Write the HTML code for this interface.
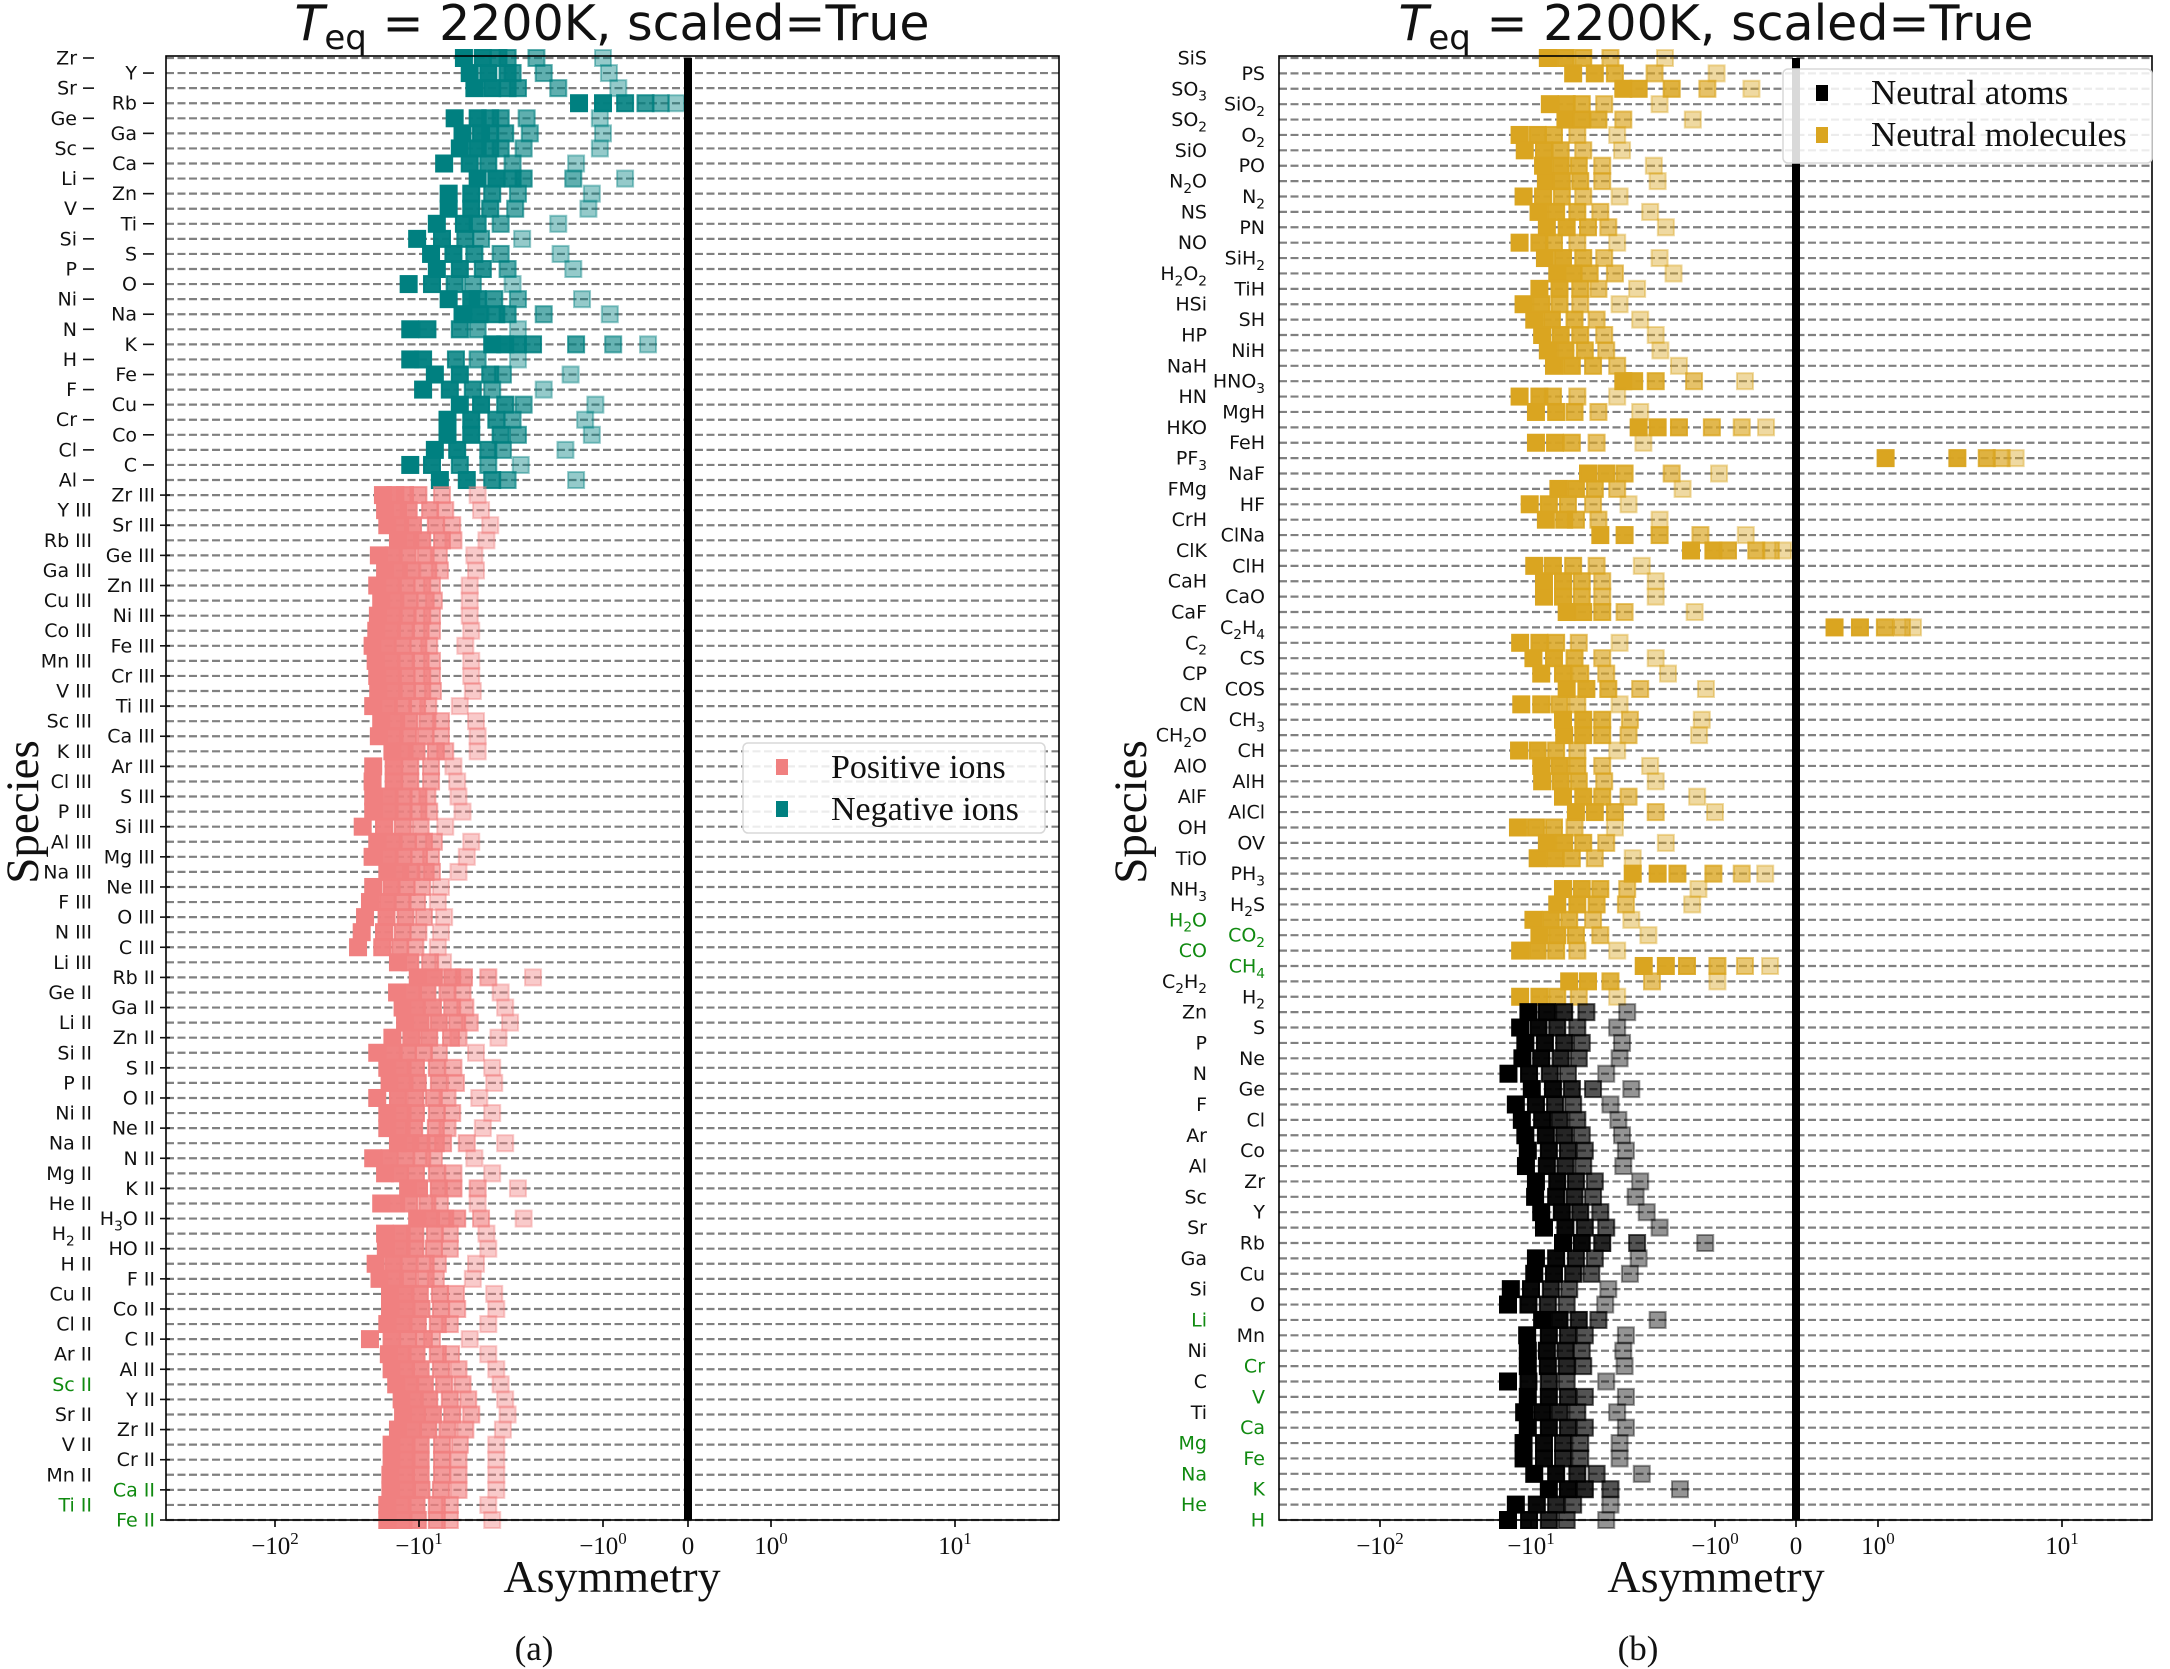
<!DOCTYPE html>
<html><head><meta charset="utf-8"><style>
html,body{margin:0;padding:0;background:#fff;}
svg{display:block;}
</style></head><body>
<svg id="fig" xmlns="http://www.w3.org/2000/svg" width="2170" height="1669" viewBox="0 0 2170 1669"></svg>
<script>
// ---------- DATA ----------
const negSpecies = ["Zr","Y","Sr","Rb","Ge","Ga","Sc","Ca","Li","Zn","V","Ti","Si","S","P","O","Ni","Na","N","K","H","Fe","F","Cu","Cr","Co","Cl","C","Al"];
const negValues = [
[-5.7,-4.5,-3.7,-3.3,-2.3,-1.0],[-5.3,-4.2,-3.3,-3.1,-2.1,-0.93],[-5.0,-4.0,-3.3,-2.9,-1.75,-0.82],
[-1.35,-1.0,-0.74,-0.5,-0.32,-0.14],[-6.4,-4.8,-4.1,-3.6,-2.6,-1.04],[-5.8,-4.6,-4.1,-3.4,-2.5,-1.0],
[-6.0,-4.8,-4.1,-3.6,-2.7,-1.04],[-7.3,-5.3,-4.2,-3.1,-1.4],[-4.8,-3.8,-3.1,-2.7,-1.45,-0.74],
[-6.9,-5.2,-4.0,-2.9,-1.15],[-6.9,-5.2,-4.1,-3.0,-1.2],[-8.0,-5.7,-4.8,-3.6,-1.75],
[-10.3,-7.5,-5.6,-4.6,-2.75],[-8.6,-6.5,-5.0,-3.6,-1.7],[-8.0,-6.0,-4.5,-3.3,-1.45],
[-11.8,-8.5,-6.4,-5.1,-3.1],[-6.9,-5.2,-4.8,-3.9,-2.9,-1.3],[-5.8,-4.7,-3.8,-3.3,-2.1,-0.92],
[-11.5,-9,-6.0,-4.8,-2.9],[-4.0,-3.4,-2.9,-2.4,-1.4,-0.88,-0.47],[-11.5,-9.5,-6.3,-4.8,-2.9],
[-8.2,-6.0,-4.1,-3.5,-1.5],[-9.5,-6.8,-5.1,-4.0,-2.1],[-6.0,-4.6,-3.4,-2.7,-1.1],
[-7.0,-5.2,-3.8,-3.1,-1.25],[-7.0,-5.2,-3.6,-2.9,-1.15],[-8.2,-6.2,-4.2,-3.5,-1.6],
[-11.5,-8.5,-6.0,-4.2,-2.8],[-7.7,-5.5,-4.0,-3.3,-1.4]];
const posSpecies = ["Zr III","Y III","Sr III","Rb III","Ge III","Ga III","Zn III","Cu III","Ni III","Co III","Fe III","Mn III","Cr III","V III","Ti III","Sc III","Ca III","K III","Ar III","Cl III","S III","P III","Si III","Al III","Mg III","Na III","Ne III","F III","O III","N III","C III","Li III","Rb II","Ge II","Ga II","Li II","Zn II","Si II","S II","P II","O II","Ni II","Ne II","Na II","N II","Mg II","K II","He II","H₃O II","H₂ II","HO II","H II","F II","Cu II","Co II","Cl II","C II","Ar II","Al II","Sc II","Y II","Sr II","Zr II","V II","Cr II","Mn II","Ca II","Ti II","Fe II"];
const posValues = [
[-17.8,-14.6,-12.5,-10.1,-7.5,-4.8],[-17.2,-14,-11.8,-8.7,-7.2,-4.6],[-16.6,-13.5,-11,-8.1,-6.6,-4.1],
[-14.0,-11.5,-9.6,-7.5,-6.5,-4.3],[-19,-15,-12,-9.2,-7.8,-5.0],[-17.2,-13.8,-11.3,-8.9,-7.7,-4.9],
[-19.5,-15.2,-12.2,-9.6,-8.5,-5.3],[-18.3,-14.6,-11.7,-9.2,-8.3,-5.3],[-19.3,-15,-12,-9.6,-8.5,-5.3],
[-19.8,-15.4,-12.3,-9.8,-8.5,-5.2],[-21,-16.5,-13,-10.1,-8.8,-5.6],[-20,-15.5,-12.3,-9.8,-8.5,-5.2],
[-19.5,-15.2,-12.2,-9.6,-8.5,-5.2],[-19.2,-15,-12.1,-9.6,-8.4,-5.1],[-20.8,-16.2,-12.9,-10.3,-8.9,-6.0],
[-18.3,-14.4,-11.7,-9.0,-7.6,-4.9],[-19,-14.8,-11.9,-9.2,-7.6,-4.8],[-15.3,-12.6,-10.4,-8.1,-7.2,-4.8],
[-20.8,-15,-11.5,-8.6,-6.5],[-21,-15,-11.5,-8.6,-6.2],[-20.8,-16,-12.8,-10.1,-9,-6.1],
[-20.8,-16,-12.8,-10.1,-8.8,-5.8],[-24.6,-17.5,-13,-9.8,-7.2],[-19.5,-15,-12,-9.4,-8.3,-5.2],
[-21,-16,-12.8,-10,-8.6,-5.5],[-16.6,-13.5,-11.3,-9.2,-8.5,-6.1],[-20.8,-15.5,-12.2,-9.6,-7.6],
[-21.9,-16.5,-13,-10.3,-7.9],[-23.7,-16.8,-12.4,-9.4,-7.3],[-25,-17.5,-13,-10.1,-7.6],
[-26.5,-18,-13.5,-10.6,-7.9],[-14,-11.5,-8.7,-7.4],[-10.2,-8.3,-6.6,-5.7,-4.2,-2.4],
[-14.2,-11,-9,-7.0,-5.8,-3.6],[-13,-10.5,-8.4,-6.6,-5.6,-3.4],[-12.5,-9.8,-7.8,-6.2,-5.3,-3.2],
[-15.3,-11.3,-8.8,-6.7,-6.1,-3.7],[-19.5,-15,-12,-9.4,-7.8,-4.9],[-16.6,-13,-10.5,-8.0,-6.5,-4.0],
[-16,-12.6,-10.2,-7.8,-6.3,-3.9],[-19.5,-14,-10.6,-8.3,-7.0,-4.7],[-16.6,-13,-10.5,-8.0,-6.6,-4.0],
[-16.6,-13.2,-10.8,-8.1,-7.0,-4.5],[-14,-11.5,-9.7,-8.1,-7.4,-5.5,-3.4],[-20.8,-16,-12.4,-9.6,-8.3,-5.0],
[-17.2,-13.6,-10.5,-8.0,-6.5,-4.0],[-11.9,-10,-7.8,-6.5,-4.8,-2.9],[-18.3,-14.4,-11.7,-9.0,-7.7,-4.8],
[-10.3,-8.6,-7.2,-6.2,-4.6,-2.7],[-17.2,-13.2,-10.6,-8.2,-6.8,-4.3],[-17,-13.2,-10.6,-8.3,-6.8,-4.2],
[-20,-15,-11.8,-9.2,-7.9,-4.9],[-18.8,-14.7,-11.9,-9.2,-8.1,-5.1],[-15.9,-12.4,-9.9,-7.7,-6.3,-3.9],
[-15.9,-12.2,-9.7,-7.6,-6.2,-3.8],[-16.6,-12.8,-10.2,-7.9,-6.8,-4.2],[-21.9,-15.5,-11.9,-9.4,-8.5,-5.3],
[-16.2,-13,-10.4,-7.9,-6.7,-4.2],[-15.5,-12.3,-9.8,-7.6,-6.1,-3.8],[-14.4,-11.5,-9.3,-7.3,-5.8,-3.6],
[-13.2,-10.7,-8.8,-6.8,-5.4,-3.4],[-12.9,-10.4,-8.4,-6.6,-5.2,-3.3],[-14,-11,-8.9,-7.0,-5.6,-3.5],
[-15.5,-12.2,-9.8,-7.5,-6.0,-3.8],[-15.5,-12.2,-9.8,-7.5,-6.1,-3.8],[-15.8,-12.3,-9.8,-7.5,-6.1,-3.8],
[-15.8,-12.1,-9.7,-7.6,-6.1,-3.8],[-16.6,-13,-10.4,-8,-6.8,-4.2],[-16.6,-12.8,-10.2,-8,-6.8,-4.0]];
const molSpecies = ["SiS","PS","SO₃","SiO₂","SO₂","O₂","SiO","PO","N₂O","N₂","NS","PN","NO","SiH₂","H₂O₂","TiH","HSi","SH","HP","NiH","NaH","HNO₃","HN","MgH","HKO","FeH","PF₃","NaF","FMg","HF","CrH","ClNa","ClK","ClH","CaH","CaO","CaF","C₂H₄","C₂","CS","CP","COS","CN","CH₃","CH₂O","CH","AlO","AlH","AlF","AlCl","OH","OV","TiO","PH₃","NH₃","H₂S","H₂O","CO₂","CO","CH₄","C₂H₂","H₂"];
const molValues = [
[-8.1,-6.5,-5.2,-3.7,-1.87],[-5.9,-4.5,-3.5,-2.13,-0.98],[-3.15,-2.6,-1.72,-1.1,-0.55],
[-7.9,-6.4,-5.3,-4.0,-2.0],[-6.5,-5.3,-4.3,-3.15,-1.32],[-11.9,-9.2,-7.5,-5.6,-3.4],
[-11,-8.5,-6.9,-5.2,-3.2],[-8.6,-6.9,-5.5,-4.1,-2.15],[-8.3,-6.8,-5.4,-4.1,-2.05],
[-11.2,-8.6,-6.8,-5.2,-3.3],[-9.1,-7.3,-5.6,-4.2,-2.25],[-8.2,-6.4,-4.9,-3.8,-1.85],
[-11.9,-9.0,-7.5,-5.6,-3.4],[-8.4,-6.7,-5.2,-4.0,-2.0],[-7.2,-5.9,-4.8,-3.5,-1.68],
[-9.0,-7.0,-5.4,-4.3,-2.65],[-11.2,-8.8,-7.0,-5.4,-3.3],[-9.6,-7.7,-5.8,-4.4,-2.55],
[-8.7,-6.9,-5.4,-4.0,-2.1],[-8.1,-6.5,-5.1,-3.9,-1.98],[-7.5,-6.0,-4.6,-3.4,-1.57],
[-3.15,-2.75,-2.1,-1.3,-0.63],[-11.9,-9.0,-7.6,-5.6,-3.4],[-9.4,-7.3,-5.8,-4.3,-2.55],
[-2.6,-2.05,-1.57,-1.04,-0.67,-0.37],[-9.4,-7.4,-6.0,-4.4,-2.45],[1.1,2.7,3.9,4.7,5.6],
[-4.9,-3.9,-3.1,-1.72,-0.95],[-7.1,-5.7,-4.5,-3.4,-1.5],[-10.2,-8.0,-6.3,-4.6,-2.95],
[-8.3,-6.6,-5.7,-4.3,-2.0],[-4.2,-3.1,-2.0,-1.2,-0.62],[-1.35,-1.02,-0.84,-0.49,-0.31,-0.16],
[-9.6,-7.6,-5.9,-4.4,-2.5],[-8.5,-6.7,-5.3,-4.1,-2.1],[-8.5,-6.7,-5.3,-4.1,-2.1],
[-6.4,-5.2,-4.1,-3.1,-1.29],[0.47,0.78,1.09,1.35,1.55],[-11.8,-9.0,-7.3,-5.5,-3.3],
[-9.7,-7.5,-5.8,-4.1,-2.1],[-8.8,-6.7,-5.4,-3.9,-1.8],[-6.4,-5.0,-3.8,-2.55,-1.12],
[-11.6,-8.8,-7.0,-5.6,-3.3],[-6.7,-5.2,-4.1,-2.9,-1.18],[-6.6,-5.2,-4.1,-2.95,-1.22],
[-12,-9.2,-7.3,-5.6,-3.4],[-8.8,-7.0,-5.6,-4.1,-2.25],[-8.7,-6.9,-5.5,-4.0,-2.1],
[-6.7,-5.2,-4.1,-2.95,-1.25],[-5.7,-4.5,-3.5,-2.1,-1.0],[-12.2,-9.4,-7.5,-5.8,-3.5],
[-8.2,-6.6,-5.2,-3.9,-1.85],[-9.2,-7.4,-6.0,-4.5,-2.8],[-2.8,-2.05,-1.6,-1.02,-0.67,-0.38],
[-6.7,-5.3,-4.2,-3.0,-1.23],[-7.2,-5.6,-4.4,-3.05,-1.33],[-9.7,-7.8,-6.2,-4.6,-2.85],
[-9.0,-7.2,-5.7,-4.2,-2.3],[-11.8,-9.2,-7.3,-5.6,-3.4],[-2.44,-1.85,-1.42,-0.97,-0.63,-0.32],
[-6.2,-4.9,-3.7,-2.2,-0.97],[-11.8,-9.0,-7.2,-5.5,-3.4]];
const atomSpecies = ["Zn","S","P","Ne","N","Ge","F","Cl","Ar","Co","Al","Zr","Sc","Y","Sr","Rb","Ga","Cu","Si","O","Li","Mn","Ni","Cr","C","V","Ti","Ca","Mg","Fe","Na","K","He","H"];
const atomValues = [
[-10.4,-8.2,-6.6,-5.0,-3.0],[-11.8,-9.1,-7.2,-5.6,-3.4],[-10.9,-8.4,-6.6,-5.3,-3.2],
[-11.4,-8.8,-6.9,-5.5,-3.3],[-14.1,-10.3,-7.9,-6.3,-3.9],[-9.9,-7.6,-6.0,-4.6,-2.85],
[-12.6,-9.4,-7.4,-5.9,-3.7],[-11.5,-8.7,-7.0,-5.6,-3.35],[-10.9,-8.3,-6.6,-5.3,-3.2],
[-10.5,-8.0,-6.3,-5.1,-3.05],[-10.8,-8.2,-6.5,-5.2,-3.15],[-9.4,-7.2,-5.7,-4.5,-2.55],
[-9.5,-7.3,-5.8,-4.6,-2.7],[-8.8,-6.8,-5.4,-4.2,-2.35],[-8.5,-6.5,-5.1,-3.9,-2.0],
[-6.7,-5.3,-4.1,-2.65,-1.13],[-9.4,-7.3,-5.7,-4.5,-2.6],[-9.6,-7.5,-5.9,-4.7,-2.9],
[-13.6,-10,-7.8,-6.2,-3.8],[-14.2,-10.4,-8.1,-6.4,-3.95],[-8.7,-7.0,-5.5,-4.3,-2.05],
[-10.6,-8.0,-6.3,-5.1,-3.05],[-10.5,-8.2,-6.5,-5.3,-3.15],[-10.5,-8.1,-6.4,-5.2,-3.1],
[-14.2,-10.4,-8.0,-6.4,-3.9],[-10.5,-8.0,-6.3,-5.1,-3.05],[-11.1,-8.7,-7.0,-5.6,-3.4],
[-10.5,-8.0,-6.3,-5.1,-3.05],[-11.2,-8.5,-6.7,-5.4,-3.3],[-11.2,-8.5,-6.7,-5.4,-3.3],
[-9.6,-7.3,-5.6,-4.4,-2.5],[-8.0,-6.3,-5.1,-3.7,-1.55],[-12.6,-9.3,-7.3,-5.9,-3.7],
[-14.2,-10.3,-8.0,-6.4,-3.9]];
const greenLeft = ["Sc II","Ca II","Ti II","Fe II"];
const greenRight = ["H₂O","CO₂","CO","CH₄","Li","Cr","V","Ca","Mg","Fe","Na","K","He","H"];
const tickValues = [-100,-10,-1,0,1,10];
const tickBase = ["−10","−10","−10","0","10","10"];
const tickExp = ["2","1","0","","0","1"];

// ---------- helpers ----------
const NS="http://www.w3.org/2000/svg";
const svg=document.getElementById('fig');
function mk(tag,attrs,parent){const e=document.createElementNS(NS,tag);for(const k in attrs)e.setAttribute(k,attrs[k]);(parent||svg).appendChild(e);return e;}
const SUB="₀₁₂₃₄₅₆₇₈₉";
function fillLabel(t,s,fs){
  let buf='',sub=false;
  function flush(){
    if(!buf)return;
    const ts=document.createElementNS(NS,'tspan');
    ts.textContent=buf;
    if(sub){ts.setAttribute('font-size',fs*0.72);ts.setAttribute('dy',fs*0.28);}
    else if(t.childNodes.length&&t.lastChild.getAttribute&&t.lastChild.getAttribute('data-sub')==='1'){ts.setAttribute('dy',-fs*0.28);}
    if(sub)ts.setAttribute('data-sub','1');
    t.appendChild(ts);buf='';
  }
  for(const ch of s){
    const k=SUB.indexOf(ch);
    const isSub=k>=0;
    if(isSub!==sub){flush();sub=isSub;}
    buf+=isSub?String(k):ch;
  }
  flush();
}
function makeScale(m100,m10,m1,z,p1,p10){
  return function(v){
    if(v<=-10) return m10-(Math.log10(-v)-1)*(m10-m100);
    if(v<=-1) return m1-Math.log10(-v)*(m1-m10);
    if(v<0) return z+v*(z-m1);
    if(v<1) return z+v*(p1-z);
    return p1+Math.log10(v)*(p10-p1);
  };
}
const TOP=58, BOT=1520;
const panels=[
 {name:'a',L:166,R:1059,xs:makeScale(275,419,603,688,771,955),groups:[[negSpecies,negValues,'#008080'],[posSpecies,posValues,'#F08080']],green:greenLeft,outerR:92,innerR:155,cx:612,cap:'(a)',ylx:22},
 {name:'b',L:1279,R:2152,xs:makeScale(1380,1531,1715,1796,1878,2062),groups:[[molSpecies,molValues,'#DAA520'],[atomSpecies,atomValues,'#000000']],green:greenRight,outerR:1207,innerR:1265,cx:1716,cap:'(b)',ylx:1130}
];
const FS='"DejaVu Sans","Liberation Sans",sans-serif';
const SERIF='"Liberation Serif","DejaVu Serif",serif';

panels.forEach(function(p){
  const g=mk('g',{});
  
  
  let names=[],vals=[],cols=[];
  p.groups.forEach(function(gr){gr[0].forEach(function(s,i){names.push(s);vals.push(gr[1][i]);cols.push(gr[2]);});});
  const n=names.length, step=(BOT-TOP)/(n-1);
  const ys=function(i){return TOP+i*step;};
  for(let i=0;i<n;i++){
    const l=mk('line',{x1:p.L,x2:p.R,y1:ys(i),y2:ys(i),stroke:'#808080','stroke-width':2.2,'stroke-dasharray':'8,3.5'},g);
    
    
  }
  for(let i=0;i<n;i++){
    const v=vals[i].slice().sort(function(a,b){return a-b;});
    const m=v.length;
    v.forEach(function(val,j){
      const f=m>1?j/(m-1):0;
      const a=1-0.58*f*f;
      const x=p.xs(val);
      const r=mk('rect',{x:x-8,y:ys(i)-8,width:16,height:16,fill:cols[i],'fill-opacity':a,stroke:cols[i],'stroke-opacity':a,'stroke-width':2},g);
      
      
    });
  }
  const z=mk('line',{x1:p.xs(0),x2:p.xs(0),y1:TOP,y2:BOT,stroke:'#000','stroke-width':8},g);
  
  
  const fr=mk('rect',{x:p.L,y:TOP-2,width:p.R-p.L,height:BOT-TOP+2,fill:'none',stroke:'#000','stroke-width':1.6},g);
  
  
  for(let i=0;i<n;i++){
    const outer=(i%2===0);
    const isGreen=p.green.indexOf(names[i])>=0;
    let rx=outer?p.outerR:p.innerR;
    const isNeg=(p.name==='a'&&i<negSpecies.length);
    if(isNeg) rx=outer?77:137;
    const t=mk('text',{x:rx,y:ys(i)+6.5,'text-anchor':'end','font-family':FS,'font-size':19,fill:isGreen?'#108a10':'#111'},g);
    fillLabel(t,names[i],19);
    
    
    if(p.name==='a'){
      if(isNeg){
        const tx=outer?83:143;
        const tk=mk('line',{x1:tx,x2:tx+11,y1:ys(i),y2:ys(i),stroke:'#111','stroke-width':1.6},g);
        
        
      } else if(!outer){
        const tk=mk('line',{x1:160,x2:170,y1:ys(i),y2:ys(i),stroke:'#111','stroke-width':1.6},g);
        
        
      }
    }
  }
  tickValues.forEach(function(v,k){
    const x=p.xs(v);
    const tk=mk('line',{x1:x,x2:x,y1:BOT,y2:BOT+7,stroke:'#000','stroke-width':1.6},g);
    
    
    const t=mk('text',{x:x,y:BOT+34,'text-anchor':'middle','font-family':SERIF,'font-size':25,fill:'#111'},g);
    
    
    const b=document.createElementNS(NS,'tspan');b.textContent=tickBase[k];t.appendChild(b);
    if(tickExp[k]){const e=document.createElementNS(NS,'tspan');e.setAttribute('dy',-10);e.setAttribute('font-size',17);e.textContent=tickExp[k];t.appendChild(e);}
  });
  const xl=mk('text',{x:p.cx,y:1592,'text-anchor':'middle','font-family':SERIF,'font-size':46,fill:'#111'},g);
  xl.textContent='Asymmetry';
  
  
  const yl=mk('text',{x:p.ylx,y:796,'text-anchor':'middle','font-family':SERIF,'font-size':47,fill:'#111',transform:'rotate(-90 '+(p.ylx+16)+' 796)'},g);
  yl.textContent='Species';
  
  
  const tt=mk('text',{x:p.cx,y:40,'text-anchor':'middle','font-family':FS,'font-size':49,fill:'#111'},g);
  
  
  const s1=document.createElementNS(NS,'tspan');s1.setAttribute('font-style','italic');s1.textContent='T';tt.appendChild(s1);
  const s2=document.createElementNS(NS,'tspan');s2.setAttribute('font-size',34);s2.setAttribute('dy',9);s2.textContent='eq';tt.appendChild(s2);
  const s3=document.createElementNS(NS,'tspan');s3.setAttribute('dy',-9);s3.textContent=' = 2200K, scaled=True';tt.appendChild(s3);
  const cp=mk('text',{x:p.cx-78,y:1660,'text-anchor':'middle','font-family':SERIF,'font-size':35,fill:'#111'},g);
  cp.textContent=p.cap;
  
  
});

function legend(x,y,w,h,items,name,fs){
  const g=mk('g',{});
  
  
  const r=mk('rect',{x:x,y:y,width:w,height:h,rx:5,fill:'#fff','fill-opacity':0.85,stroke:'#d8d8d8','stroke-width':1.5},g);
  
  
  items.forEach(function(it,i){
    const cy=y+24+i*42;
    const m=mk('rect',{x:x+33,y:cy-8,width:12,height:16,fill:it[1]},g);
    
    
    const t=mk('text',{x:x+88,y:cy+11,'font-family':SERIF,'font-size':fs,fill:'#111'},g);
    t.textContent=it[0];
    
    
  });
}
legend(743,743,302,90,[["Positive ions","#F08080"],["Negative ions","#008080"]],'legend-ions',34);
legend(1783,69,369,94,[["Neutral atoms","#000000"],["Neutral molecules","#DAA520"]],'legend-neutrals',35);
</script>
</body></html>
